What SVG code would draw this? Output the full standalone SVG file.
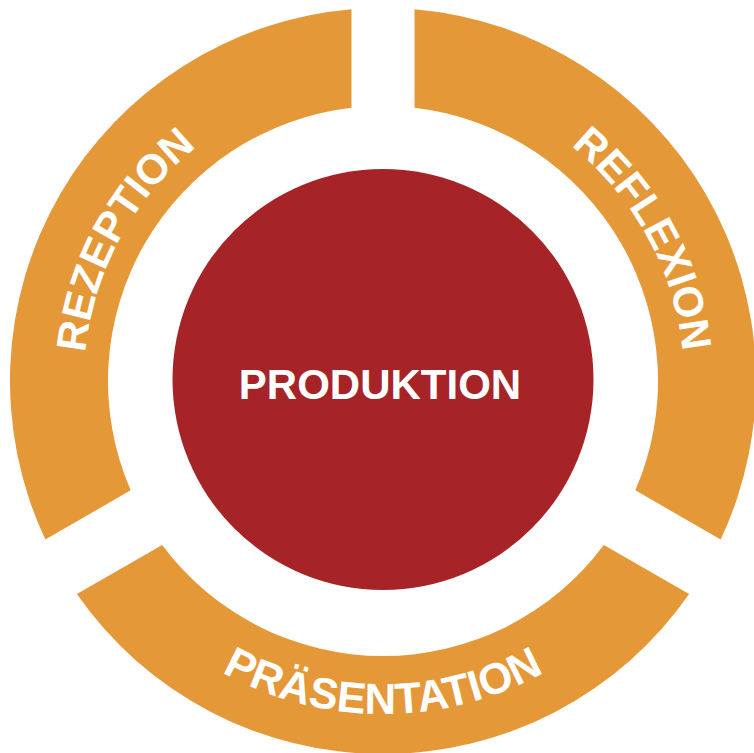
<svg xmlns="http://www.w3.org/2000/svg" xmlns:xlink="http://www.w3.org/1999/xlink" width="754" height="753" viewBox="0 0 754 753">
<style>
.seg{fill:#E59838;}
.lbl{font-family:"Liberation Sans",Arial,Helvetica,sans-serif;font-weight:bold;font-size:42px;fill:#FFFFFF;}
.big{font-size:43.5px;}
</style>
<defs>
<path id="pRez" d="M124.06,530.5 A299,299 0 0 1 383,82"/>
<path id="pRef" d="M383,80 A301,301 0 0 1 643.67,531.5"/>
<path id="pPra" d="M94.61,547.5 A333,333 0 0 0 671.39,547.5"/>
</defs>
<rect width="754" height="753" fill="#FFFFFF"/>
<g id="rezeption">
<path class="seg" d="M45.37,539.56 A373,373 0 0 1 351.5,9.33 L351.5,107.81 A275,275 0 0 0 130.66,490.32 Z"/>
<text class="lbl"><textPath xlink:href="#pRez" href="#pRez" startOffset="305" text-anchor="middle">REZEPTION</textPath></text>
</g>
<g id="reflexion">
<path class="seg" d="M414.5,9.33 A373,373 0 0 1 720.63,539.56 L635.34,490.32 A275,275 0 0 0 414.5,107.81 Z"/>
<text class="lbl"><textPath xlink:href="#pRef" href="#pRef" startOffset="323" text-anchor="middle">REFLEXION</textPath></text>
</g>
<g id="praesentation">
<path class="seg" d="M689.13,594.12 A373,373 0 0 1 76.87,594.12 L162.16,544.88 A275,275 0 0 0 603.84,544.88 Z"/>
<text class="lbl big"><textPath xlink:href="#pPra" href="#pPra" startOffset="50%" text-anchor="middle">PRÄSENTATION</textPath></text>
</g>
<g id="produktion">
<circle cx="383" cy="379.5" r="210.5" fill="#A62427"/>
<text class="lbl" x="380" y="399" text-anchor="middle">PRODUKTION</text>
</g>
<g id="connectors"></g>
</svg>
